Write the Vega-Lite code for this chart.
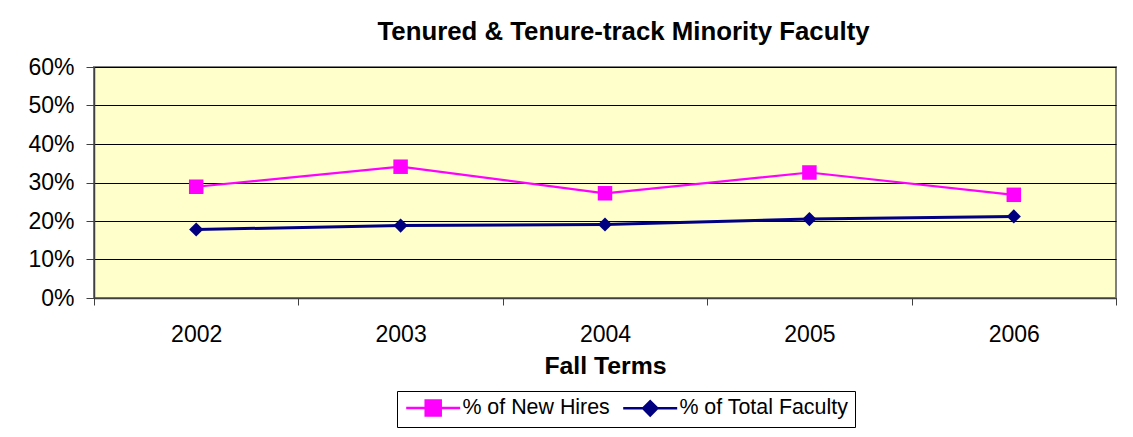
{
  "$schema": "https://vega.github.io/schema/vega-lite/v6.json",
  "width": 1022,
  "height": 231,
  "autosize": {"type": "none"},
  "padding": {"left": 94, "top": 67, "right": 17, "bottom": 139},
  "background": "white",
  "title": {
    "text": "Tenured & Tenure-track Minority Faculty",
    "font": "Liberation Sans",
    "fontSize": 25.8,
    "fontWeight": "bold",
    "color": "black",
    "anchor": "middle",
    "dx": 18.5,
    "baseline": "alphabetic",
    "offset": -10
  },
  "data": {
    "values": [
      {"year": "2002", "series": "% of New Hires", "value": 0.289},
      {"year": "2003", "series": "% of New Hires", "value": 0.341},
      {"year": "2004", "series": "% of New Hires", "value": 0.272},
      {"year": "2005", "series": "% of New Hires", "value": 0.326},
      {"year": "2006", "series": "% of New Hires", "value": 0.268},
      {"year": "2002", "series": "% of Total Faculty", "value": 0.178},
      {"year": "2003", "series": "% of Total Faculty", "value": 0.188},
      {"year": "2004", "series": "% of Total Faculty", "value": 0.191},
      {"year": "2005", "series": "% of Total Faculty", "value": 0.205},
      {"year": "2006", "series": "% of Total Faculty", "value": 0.212}
    ]
  },
  "encoding": {
    "x": {
      "field": "year",
      "type": "ordinal",
      "scale": {"type": "band", "paddingInner": 0, "paddingOuter": 0},
      "axis": {
        "title": "Fall Terms",
        "titleFont": "Liberation Sans",
        "titleFontSize": 24.8,
        "titleFontWeight": "bold",
        "titleColor": "black",
        "titlePadding": 7,
        "labelFont": "Liberation Sans",
        "labelFontSize": 23,
        "labelColor": "black",
        "labelAngle": 0,
        "labelPadding": 18,
        "tickBand": "extent",
        "tickSize": 7,
        "tickColor": "#404040",
        "domain": true,
        "domainColor": "#404040",
        "domainWidth": 1.5,
        "grid": false
      }
    },
    "y": {
      "field": "value",
      "type": "quantitative",
      "scale": {"domain": [0, 0.6], "nice": false},
      "axis": {
        "title": null,
        "values": [0, 0.1, 0.2, 0.3, 0.4, 0.5, 0.6],
        "format": ".0%",
        "labelFont": "Liberation Sans",
        "labelFontSize": 23,
        "labelColor": "black",
        "labelPadding": 12,
        "tickSize": 8,
        "tickColor": "#404040",
        "domain": true,
        "domainColor": "#404040",
        "domainWidth": 1.5,
        "grid": true,
        "gridColor": "#000000",
        "gridWidth": 1,
        "gridOpacity": 1
      }
    },
    "color": {
      "field": "series",
      "type": "nominal",
      "scale": {"domain": ["% of New Hires", "% of Total Faculty"], "range": ["#FF00FF", "#000080"]},
      "legend": {
        "title": null,
        "orient": "none",
        "legendX": 303,
        "legendY": 324,
        "direction": "horizontal",
        "columns": 2,
        "padding": 6,
        "strokeColor": "black",
        "fillColor": "white",
        "labelFont": "Liberation Sans",
        "labelFontSize": 21.4,
        "labelColor": "black",
        "labelLimit": 400,
        "labelOffset": 38,
        "columnPadding": 8,
        "symbolSize": 225,
        "symbolStrokeWidth": 2.5,
        "symbolOpacity": 1,
        "encode": {
          "symbols": {
            "update": {
              "shape": {"signal": "datum.value === '% of New Hires' ? 'M-1,0H6.2M1.6,-1H3.6V1H1.6Z' : 'M-1,0H6.2M1.65,0L2.6,-0.95L3.55,0L2.6,0.95Z'"},
              "fill": {"scale": "color", "field": "value"},
              "stroke": {"scale": "color", "field": "value"},
              "strokeWidth": {"value": 2.5},
              "opacity": {"value": 1}
            }
          }
        }
      }
    }
  },
  "layer": [
    {
      "transform": [{"filter": "datum.series === '% of New Hires'"}],
      "mark": {"type": "line", "strokeWidth": 2.2}
    },
    {
      "transform": [{"filter": "datum.series === '% of Total Faculty'"}],
      "mark": {"type": "line", "strokeWidth": 3}
    },
    {
      "transform": [{"filter": "datum.series === '% of New Hires'"}],
      "mark": {"type": "point", "filled": true, "opacity": 1, "size": 210, "shape": "square"}
    },
    {
      "transform": [{"filter": "datum.series === '% of Total Faculty'"}],
      "mark": {"type": "point", "filled": true, "opacity": 1, "size": 200, "shape": "diamond"}
    }
  ],
  "config": {
    "view": {"fill": "#FFFFCC", "stroke": "#808080", "strokeWidth": 2}
  }
}
